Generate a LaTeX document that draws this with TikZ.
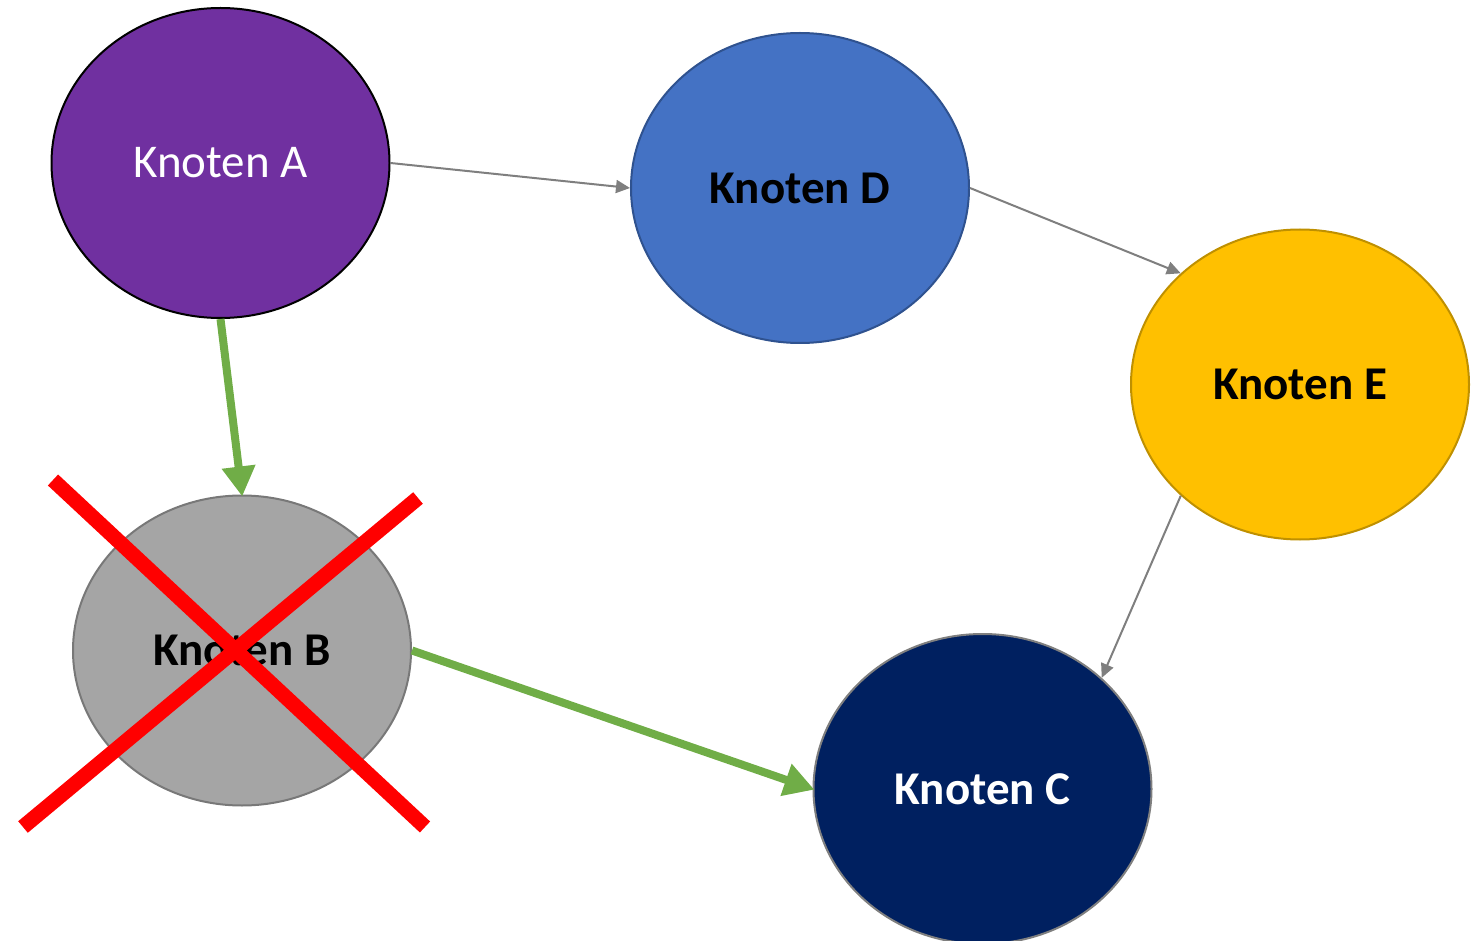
\documentclass[tikz,border=0pt]{standalone}
\usepackage{fontspec}
\setmainfont{Carlito}
\usetikzlibrary{shapes.geometric,arrows.meta}
\definecolor{cA}{HTML}{7030A0}
\definecolor{cD}{HTML}{4472C4}
\definecolor{cDb}{HTML}{2F528F}
\definecolor{cE}{HTML}{FFC000}
\definecolor{cEb}{HTML}{BF9000}
\definecolor{cB}{HTML}{A5A5A5}
\definecolor{cBb}{HTML}{787878}
\definecolor{cC}{HTML}{002060}
\definecolor{cCb}{HTML}{7F7F7F}
\definecolor{grn}{HTML}{70AD47}
\definecolor{gry}{HTML}{7F7F7F}
\tikzset{
  knot/.style={ellipse, minimum width=169pt, minimum height=155pt, inner sep=0pt, line width=1pt, font=\fontsize{23.5}{28}\selectfont},
  boldknot/.style={knot, font=\fontsize{23.5}{28}\selectfont\bfseries},
  thinarr/.style={draw=gry, line width=1pt, -{Triangle[length=7pt,width=6.5pt]}},
  grnarr/.style={draw=grn, line width=4pt, -{Triangle[length=15pt,width=16pt]}, shorten >=-1pt},
  cross/.style={draw=red, line width=7.5pt, line cap=butt}
}
\begin{document}
\begin{tikzpicture}[x=0.5pt,y=-0.5pt]
\useasboundingbox (0,0) rectangle (1473,941);
\node[knot, fill=cA, draw=black, text=white] (A) at (220.5,163) {Knoten A};
\node[boldknot, fill=cD, draw=cDb] (D) at (800,188) {Knoten D};
\node[boldknot, fill=cE, draw=cEb] (E) at (1300,384.5) {Knoten E};
\node[boldknot, fill=cB, draw=cBb] (B) at (242,650.5) {Knoten B};
\node[boldknot, fill=cC, draw=cCb, text=white] (C) at (982.5,789) {Knoten C};
\draw[thinarr] (A.east) -- (D.west);
\draw[thinarr] (D.east) -- (E.137);
\draw[thinarr] (E.223) -- (C.43);
\draw[grnarr] (A.south) -- (B.north);
\draw[grnarr] (B.east) -- (C.west);
\coordinate (x1a) at (53,480);
\coordinate (x1b) at (425,827);
\coordinate (x2a) at (418,498);
\coordinate (x2b) at (23,827);
\draw[cross] (x1a) -- (x1b);
\draw[cross] (x2a) -- (x2b);
\end{tikzpicture}
\end{document}
